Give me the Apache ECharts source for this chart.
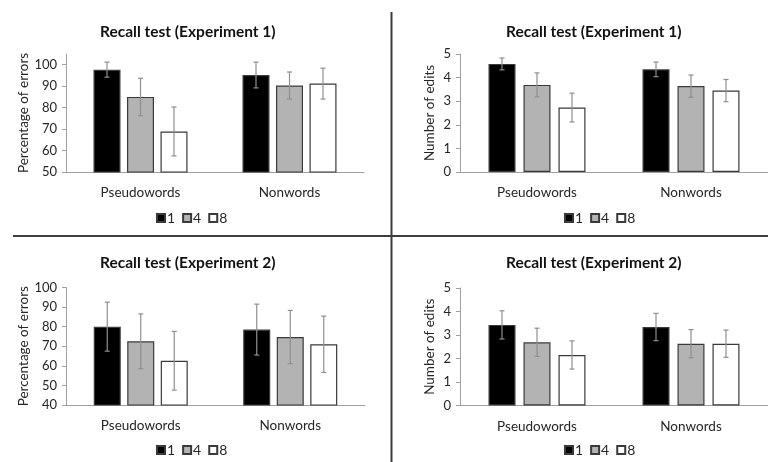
<!DOCTYPE html>
<html>
<head>
<meta charset="utf-8">
<script src="https://cdn.jsdelivr.net/npm/echarts@6/dist/echarts.min.js"></script>
<style>
html,body{margin:0;padding:0;background:#fff;}
#c{width:768px;height:462px;}
</style>
</head>
<body>
<div id="c"></div>
<script>
// ---- data ----
const categories = ['Pseudowords', 'Nonwords'];
const seriesNames = ['1', '4', '8'];

// Experiment 1 – percentage of errors
const exp1Err_1 = [97.7, 95.2];
const exp1Err_4 = [85.0, 90.3];
const exp1Err_8 = [68.9, 91.2];
const exp1ErrSD_1 = [3.5, 6.0];
const exp1ErrSD_4 = [8.7, 6.3];
const exp1ErrSD_8 = [11.4, 7.2];

// Experiment 1 – number of edits
const exp1Edit_1 = [4.58, 4.35];
const exp1Edit_4 = [3.69, 3.64];
const exp1Edit_8 = [2.73, 3.45];
const exp1EditSD_1 = [0.25, 0.31];
const exp1EditSD_4 = [0.51, 0.47];
const exp1EditSD_8 = [0.61, 0.47];

// Experiment 2 – percentage of errors
const exp2Err_1 = [80.0, 78.5];
const exp2Err_4 = [72.5, 74.7];
const exp2Err_8 = [62.6, 71.0];
const exp2ErrSD_1 = [12.5, 13.0];
const exp2ErrSD_4 = [14.0, 13.6];
const exp2ErrSD_8 = [15.0, 14.4];

// Experiment 2 – number of edits
const exp2Edit_1 = [3.43, 3.34];
const exp2Edit_4 = [2.69, 2.63];
const exp2Edit_8 = [2.15, 2.63];
const exp2EditSD_1 = [0.60, 0.58];
const exp2EditSD_4 = [0.60, 0.60];
const exp2EditSD_8 = [0.60, 0.58];

// tick labels
const ticksErr1 = [50, 60, 70, 80, 90, 100];
const ticksErr2 = [40, 50, 60, 70, 80, 90, 100];
const ticksEdit = [0, 1, 2, 3, 4, 5];

const titles = ['Recall test (Experiment 1)', 'Recall test (Experiment 1)',
                'Recall test (Experiment 2)', 'Recall test (Experiment 2)'];
const yNames = ['Percentage of errors', 'Number of edits', 'Percentage of errors', 'Number of edits'];

// ---- styles / layout ----
const FONT = 'Lato, "Open Sans", sans-serif';
const TXT = '#262626';
const AX = '#a0a0a0';
const fills = ['#000000', '#b3b3b3', '#ffffff'];
const BW = 27;

const panels = [
  { grid: {left: 66, top: 54, width: 298, height: 118}, y: {min: 50, max: 105, ticks: ticksErr1},
    means: [exp1Err_1, exp1Err_4, exp1Err_8], sds: [exp1ErrSD_1, exp1ErrSD_4, exp1ErrSD_8],
    gap: 6.5, nameGap: 34, title: {left: 100, top: 24}, legend: {left: 156, top: 211} },
  { grid: {left: 460, top: 54, width: 309, height: 118}, y: {min: 0, max: 5, ticks: ticksEdit},
    means: [exp1Edit_1, exp1Edit_4, exp1Edit_8], sds: [exp1EditSD_1, exp1EditSD_4, exp1EditSD_8],
    gap: 8, nameGap: 23, title: {left: 506, top: 24}, legend: {left: 564, top: 211} },
  { grid: {left: 66, top: 287.5, width: 299, height: 117.5}, y: {min: 40, max: 100, ticks: ticksErr2},
    means: [exp2Err_1, exp2Err_4, exp2Err_8], sds: [exp2ErrSD_1, exp2ErrSD_4, exp2ErrSD_8],
    gap: 6.5, nameGap: 34, title: {left: 100, top: 255}, legend: {left: 156, top: 443} },
  { grid: {left: 460, top: 288, width: 309, height: 117.5}, y: {min: 0, max: 5, ticks: ticksEdit},
    means: [exp2Edit_1, exp2Edit_4, exp2Edit_8], sds: [exp2EditSD_1, exp2EditSD_4, exp2EditSD_8],
    gap: 8, nameGap: 23, title: {left: 506, top: 255}, legend: {left: 564, top: 443} }
];

const option = {
  animation: false,
  backgroundColor: '#fff',
  textStyle: {fontFamily: FONT},
  title: [], legend: [], grid: [], xAxis: [], yAxis: [], series: [],
  graphic: [
    {type: 'line', shape: {x1: 391.5, y1: 12, x2: 391.5, y2: 462}, style: {stroke: '#3c3c3c', lineWidth: 2}},
    {type: 'line', shape: {x1: 13, y1: 236, x2: 768, y2: 236}, style: {stroke: '#3c3c3c', lineWidth: 2}}
  ]
};

panels.forEach((p, pi) => {
  option.title.push({
    text: titles[pi], left: p.title.left, top: p.title.top, padding: 0,
    textStyle: {fontFamily: FONT, fontSize: 15.5, fontWeight: 'bold', color: '#111'}
  });
  option.legend.push({
    data: seriesNames, left: p.legend.left, top: p.legend.top, padding: 0,
    itemWidth: 8, itemHeight: 8, itemGap: 7, icon: 'rect',
    selectedMode: false,
    textStyle: {fontFamily: FONT, fontSize: 14, color: TXT, padding: [0, 0, 0, -3]}
  });
  option.grid.push(Object.assign({containLabel: false}, p.grid));
  option.xAxis.push({
    type: 'category', gridIndex: pi, data: categories,
    axisLine: {lineStyle: {color: AX, width: 1}},
    axisTick: {show: false},
    axisLabel: {fontFamily: FONT, fontSize: 13.5, color: TXT, margin: 14}
  });
  option.yAxis.push({
    type: 'value', gridIndex: pi, min: p.y.min, max: p.y.max,
    name: yNames[pi], nameLocation: 'middle', nameGap: p.nameGap,
    nameTextStyle: {fontFamily: FONT, fontSize: 13.5, color: TXT},
    axisLine: {show: true, lineStyle: {color: AX, width: 1}},
    axisTick: {show: true, length: 4, lineStyle: {color: AX}, customValues: p.y.ticks},
    axisLabel: {fontFamily: FONT, fontSize: 13, color: TXT, margin: 9, customValues: p.y.ticks},
    splitLine: {show: false}
  });
  const gapPct = (p.gap / BW * 100).toFixed(1) + '%';
  seriesNames.forEach((nm, si) => {
    option.series.push({
      type: 'bar', name: nm, xAxisIndex: pi, yAxisIndex: pi,
      data: p.means[si], barWidth: BW, barGap: gapPct,
      itemStyle: {color: fills[si], borderColor: '#3a3a3a', borderWidth: 1.2},
      emphasis: {disabled: true}
    });
  });
  seriesNames.forEach((nm, si) => {
    const offset = (si - 1) * (BW + p.gap);
    option.series.push({
      type: 'custom', xAxisIndex: pi, yAxisIndex: pi, z: 5,
      data: p.means[si].map((m, i) => [i, m, p.sds[si][i]]),
      encode: {x: 0, y: 1},
      renderItem: function (params, api) {
        const i = api.value(0), m = api.value(1), s = api.value(2);
        const top = api.coord([i, m + s]);
        const bot = api.coord([i, m - s]);
        const x = top[0] + offset;
        const st = {stroke: '#8f8f8f', lineWidth: 1.2};
        return {type: 'group', children: [
          {type: 'line', shape: {x1: x, y1: top[1], x2: x, y2: bot[1]}, style: st},
          {type: 'line', shape: {x1: x - 2.5, y1: top[1], x2: x + 2.5, y2: top[1]}, style: st},
          {type: 'line', shape: {x1: x - 2.5, y1: bot[1], x2: x + 2.5, y2: bot[1]}, style: st}
        ]};
      }
    });
  });
});

const chart = echarts.init(document.getElementById('c'), null, {renderer: 'canvas'});
chart.setOption(option);
</script>
</body>
</html>
